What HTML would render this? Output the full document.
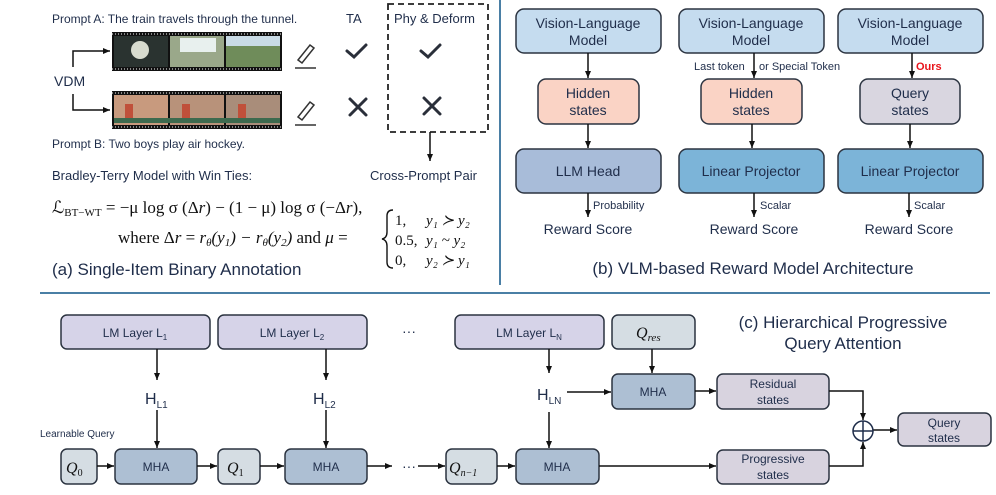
<!DOCTYPE html>
<html><head><meta charset="utf-8"><style>
html,body{margin:0;padding:0;background:#fff;}
svg{display:block;}
text{font-family:"Liberation Sans",sans-serif;fill:#1f2d4a;}
.m{font-family:"Liberation Serif",serif;fill:#111;}
</style></head><body>
<svg width="996" height="495" viewBox="0 0 996 495" xmlns="http://www.w3.org/2000/svg">
<defs>
<marker id="ah" markerWidth="8" markerHeight="8" refX="7" refY="4" orient="auto" markerUnits="userSpaceOnUse"><path d="M0,1 L7,4 L0,7 Z" fill="#111"/></marker>
</defs>
<line x1="500" y1="0" x2="500" y2="285" stroke="#4a7fa5" stroke-width="2"/>
<line x1="40" y1="293" x2="990" y2="293" stroke="#4a7fa5" stroke-width="2"/>

<text x="52" y="23" font-size="12">Prompt A: The train travels through the tunnel.</text>
<text x="346" y="23" font-size="13">TA</text>
<text x="394" y="23" font-size="13">Phy &amp; Deform</text>
<rect x="388" y="4" width="100" height="128" fill="none" stroke="#222" stroke-width="1.8" stroke-dasharray="6,4"/>
<rect x="112" y="32" width="170" height="39" fill="#111"/>
<rect x="114" y="36" width="54" height="31" fill="#2a3330"/>
<circle cx="140" cy="50" r="9" fill="#d8dccf"/>
<rect x="170" y="36" width="54" height="31" fill="#9aa88a"/>
<rect x="180" y="38" width="36" height="14" fill="#e8f0ee"/>
<rect x="226" y="36" width="54" height="31" fill="#6f8c5a"/>
<rect x="226" y="36" width="54" height="10" fill="#c9dbe6"/>
<line x1="112" y1="34" x2="282" y2="34" stroke="#fff" stroke-width="1" stroke-dasharray="1,2"/>
<line x1="112" y1="69" x2="282" y2="69" stroke="#fff" stroke-width="1" stroke-dasharray="1,2"/>
<rect x="112" y="91" width="170" height="38" fill="#111"/>
<rect x="114" y="95" width="54" height="30" fill="#c89a7e"/>
<rect x="170" y="95" width="54" height="30" fill="#b8927a"/>
<rect x="226" y="95" width="54" height="30" fill="#a98d7a"/>
<rect x="114" y="118" width="166" height="5" fill="#3d6a4e"/>
<rect x="125" y="104" width="8" height="14" fill="#c0503a"/><rect x="182" y="104" width="8" height="14" fill="#c0503a"/><rect x="238" y="104" width="8" height="14" fill="#c0503a"/>
<line x1="112" y1="93" x2="282" y2="93" stroke="#fff" stroke-width="1" stroke-dasharray="1,2"/>
<line x1="112" y1="127" x2="282" y2="127" stroke="#fff" stroke-width="1" stroke-dasharray="1,2"/>
<text x="54" y="86" font-size="14">VDM</text>
<polyline points="73,67 73,51 110,51" fill="none" stroke="#111" stroke-width="1.5" marker-end="url(#ah)"/>
<polyline points="73,94 73,110 110,110" fill="none" stroke="#111" stroke-width="1.5" marker-end="url(#ah)"/>
<g stroke="#333" stroke-width="1.5" fill="none">
<path d="M298,60 L310,45 L314,48 L302,63 Z"/><line x1="295" y1="68" x2="316" y2="68"/>
<path d="M298,117 L310,102 L314,105 L302,120 Z"/><line x1="295" y1="125" x2="316" y2="125"/>
</g>
<g stroke="#2a2f3a" stroke-width="3" fill="none" stroke-linecap="round">
<polyline points="347,51 354,57 366,45"/><polyline points="421,51 428,57 440,45"/>
<line x1="350" y1="99" x2="366" y2="115"/><line x1="366" y1="99" x2="350" y2="115"/>
<line x1="424" y1="98" x2="440" y2="114"/><line x1="440" y1="98" x2="424" y2="114"/>
</g>
<line x1="430" y1="132" x2="430" y2="161" stroke="#111" stroke-width="1.5" marker-end="url(#ah)"/>
<text x="370" y="180" font-size="13">Cross-Prompt Pair</text>
<text x="52" y="148" font-size="12">Prompt B: Two boys play air hockey.</text>
<text x="52" y="180" font-size="13">Bradley-Terry Model with Win Ties:</text>
<text x="52" y="213" font-size="17" class="m">ℒ<tspan font-size="11" dy="3">BT−WT</tspan><tspan dy="-3"> = −μ log σ (Δ<tspan font-style="italic">r</tspan>) − (1 − μ) log σ (−Δ<tspan font-style="italic">r</tspan>),</tspan></text>
<text x="118" y="243" font-size="17" class="m">where Δ<tspan font-style="italic">r</tspan> = <tspan font-style="italic">r<tspan font-size="11" dy="3">θ</tspan><tspan dy="-3">(y</tspan><tspan font-size="11" dy="3">1</tspan><tspan dy="-3">) − r</tspan><tspan font-size="11" dy="3">θ</tspan><tspan dy="-3">(y</tspan><tspan font-size="11" dy="3">2</tspan><tspan dy="-3">)</tspan></tspan> and <tspan font-style="italic">μ</tspan> =</text>
<path d="M393,210 Q387,210 387,216 L387,232 Q387,238 382,239 Q387,240 387,246 L387,262 Q387,268 393,268" fill="none" stroke="#111" stroke-width="1.4"/>
<text x="395" y="225" font-size="15" class="m">1,</text><text x="426" y="225" font-size="15" class="m" font-style="italic">y₁ ≻ y₂</text>
<text x="395" y="245" font-size="15" class="m">0.5,</text><text x="426" y="245" font-size="15" class="m" font-style="italic">y₁ ~ y₂</text>
<text x="395" y="265" font-size="15" class="m">0,</text><text x="426" y="265" font-size="15" class="m" font-style="italic">y₂ ≻ y₁</text>
<text x="52" y="275" font-size="17">(a) Single-Item Binary Annotation</text>

<g stroke="#2b3340" stroke-width="1.5">
<rect x="516" y="9" width="145" height="44" rx="8" fill="#c5dcef"/>
<rect x="679" y="9" width="145" height="44" rx="8" fill="#c5dcef"/>
<rect x="838" y="9" width="145" height="44" rx="8" fill="#c5dcef"/>
<rect x="538" y="79" width="101" height="45" rx="8" fill="#fad3c5"/>
<rect x="701" y="79" width="101" height="45" rx="8" fill="#fad3c5"/>
<rect x="860" y="79" width="100" height="45" rx="8" fill="#d9d6e0"/>
<rect x="516" y="149" width="145" height="44" rx="8" fill="#a8bcd9"/>
<rect x="679" y="149" width="145" height="44" rx="8" fill="#7cb4d8"/>
<rect x="838" y="149" width="145" height="44" rx="8" fill="#7cb4d8"/>
</g>
<g font-size="14" text-anchor="middle">
<text x="588" y="28">Vision-Language</text><text x="588" y="45">Model</text>
<text x="751" y="28">Vision-Language</text><text x="751" y="45">Model</text>
<text x="910" y="28">Vision-Language</text><text x="910" y="45">Model</text>
<text x="588" y="98">Hidden</text><text x="588" y="115">states</text>
<text x="751" y="98">Hidden</text><text x="751" y="115">states</text>
<text x="910" y="98">Query</text><text x="910" y="115">states</text>
<text x="588" y="176">LLM Head</text>
<text x="751" y="176">Linear Projector</text>
<text x="910" y="176">Linear Projector</text>
<text x="588" y="234">Reward Score</text>
<text x="754" y="234">Reward Score</text>
<text x="909" y="234">Reward Score</text>
</g>
<g stroke="#111" stroke-width="1.5" marker-end="url(#ah)">
<line x1="588" y1="53" x2="588" y2="78"/><line x1="588" y1="124" x2="588" y2="148"/><line x1="588" y1="193" x2="588" y2="217"/>
<line x1="754" y1="53" x2="754" y2="78"/><line x1="752" y1="124" x2="752" y2="148"/><line x1="754" y1="193" x2="754" y2="217"/>
<line x1="912" y1="53" x2="912" y2="78"/><line x1="910" y1="124" x2="910" y2="148"/><line x1="909" y1="193" x2="909" y2="217"/>
</g>
<text x="694" y="70" font-size="11">Last token</text>
<text x="759" y="70" font-size="11">or Special Token</text>
<text x="916" y="70" font-size="11" font-weight="bold" style="fill:#e8141b">Ours</text>
<text x="593" y="209" font-size="11">Probability</text>
<text x="760" y="209" font-size="11">Scalar</text>
<text x="914" y="209" font-size="11">Scalar</text>
<text x="753" y="274" font-size="17" text-anchor="middle">(b) VLM-based Reward Model Architecture</text>

<g stroke="#2b3340" stroke-width="1.5">
<rect x="61" y="315" width="149" height="34" rx="6" fill="#d6d3e8"/>
<rect x="218" y="315" width="149" height="34" rx="6" fill="#d6d3e8"/>
<rect x="455" y="315" width="149" height="34" rx="6" fill="#d6d3e8"/>
<rect x="612" y="315" width="83" height="34" rx="6" fill="#d5dde3"/>
<rect x="612" y="374" width="83" height="35" rx="6" fill="#adbfd3"/>
<rect x="717" y="374" width="112" height="35" rx="6" fill="#d8d3df"/>
<rect x="717" y="450" width="112" height="34" rx="6" fill="#d8d3df"/>
<rect x="898" y="413" width="93" height="33" rx="6" fill="#d8d3df"/>
<rect x="61" y="449" width="36" height="35" rx="6" fill="#d5dde3"/>
<rect x="115" y="449" width="82" height="35" rx="6" fill="#adbfd3"/>
<rect x="218" y="449" width="42" height="35" rx="6" fill="#d5dde3"/>
<rect x="285" y="449" width="82" height="35" rx="6" fill="#adbfd3"/>
<rect x="446" y="449" width="51" height="35" rx="6" fill="#d5dde3"/>
<rect x="516" y="449" width="83" height="35" rx="6" fill="#adbfd3"/>
</g>
<g font-size="12" text-anchor="middle">
<text x="135" y="337">LM Layer L<tspan font-size="8" dy="3">1</tspan></text>
<text x="292" y="337">LM Layer L<tspan font-size="8" dy="3">2</tspan></text>
<text x="529" y="337">LM Layer L<tspan font-size="8" dy="3">N</tspan></text>
<text x="653" y="396">MHA</text>
<text x="156" y="471">MHA</text><text x="326" y="471">MHA</text><text x="557" y="471">MHA</text>
<text x="773" y="388">Residual</text><text x="773" y="404">states</text>
<text x="773" y="463">Progressive</text><text x="773" y="479">states</text>
<text x="944" y="427">Query</text><text x="944" y="442">states</text>
</g>
<g class="m" font-style="italic" font-size="16">
<text x="66" y="473" class="m">Q<tspan font-size="10" dy="3" font-style="normal">0</tspan></text>
<text x="227" y="473" class="m">Q<tspan font-size="10" dy="3" font-style="normal">1</tspan></text>
<text x="449" y="473" class="m">Q<tspan font-size="10" dy="3">n−1</tspan></text>
<text x="636" y="338" class="m">Q<tspan font-size="11" dy="3">res</tspan></text>
</g>
<text x="402" y="336" font-size="14">···</text>
<text x="402" y="471" font-size="14">···</text>
<text x="40" y="437" font-size="10">Learnable Query</text>
<g font-size="16">
<text x="145" y="404">H<tspan font-size="10" dy="4">L1</tspan></text>
<text x="313" y="404">H<tspan font-size="10" dy="4">L2</tspan></text>
<text x="537" y="400">H<tspan font-size="10" dy="4">LN</tspan></text>
</g>
<text x="843" y="328" font-size="17" text-anchor="middle">(c) Hierarchical Progressive</text>
<text x="843" y="349" font-size="17" text-anchor="middle">Query Attention</text>
<g stroke="#111" stroke-width="1.5" fill="none" marker-end="url(#ah)">
<line x1="157" y1="349" x2="157" y2="380"/><line x1="157" y1="410" x2="157" y2="448"/>
<line x1="326" y1="349" x2="326" y2="380"/><line x1="326" y1="410" x2="326" y2="448"/>
<line x1="549" y1="349" x2="549" y2="373"/><line x1="549" y1="412" x2="549" y2="448"/>
<line x1="652" y1="349" x2="652" y2="373"/>
<line x1="567" y1="392" x2="611" y2="392"/>
<line x1="695" y1="391" x2="716" y2="391"/>
<line x1="97" y1="466" x2="114" y2="466"/>
<line x1="197" y1="466" x2="217" y2="466"/>
<line x1="260" y1="466" x2="284" y2="466"/>
<line x1="367" y1="466" x2="392" y2="466"/>
<line x1="418" y1="466" x2="445" y2="466"/>
<line x1="497" y1="466" x2="515" y2="466"/>
<line x1="599" y1="466" x2="716" y2="466"/>
<polyline points="829,391 863,391 863,420"/>
<polyline points="829,466 863,466 863,442"/>
<line x1="873" y1="430" x2="897" y2="430"/>
</g>
<circle cx="863" cy="431" r="10" fill="none" stroke="#1f2d4a" stroke-width="1.5"/>
<line x1="853" y1="431" x2="873" y2="431" stroke="#1f2d4a" stroke-width="1.5"/>
<line x1="863" y1="421" x2="863" y2="441" stroke="#1f2d4a" stroke-width="1.5"/>
</svg>
</body></html>
